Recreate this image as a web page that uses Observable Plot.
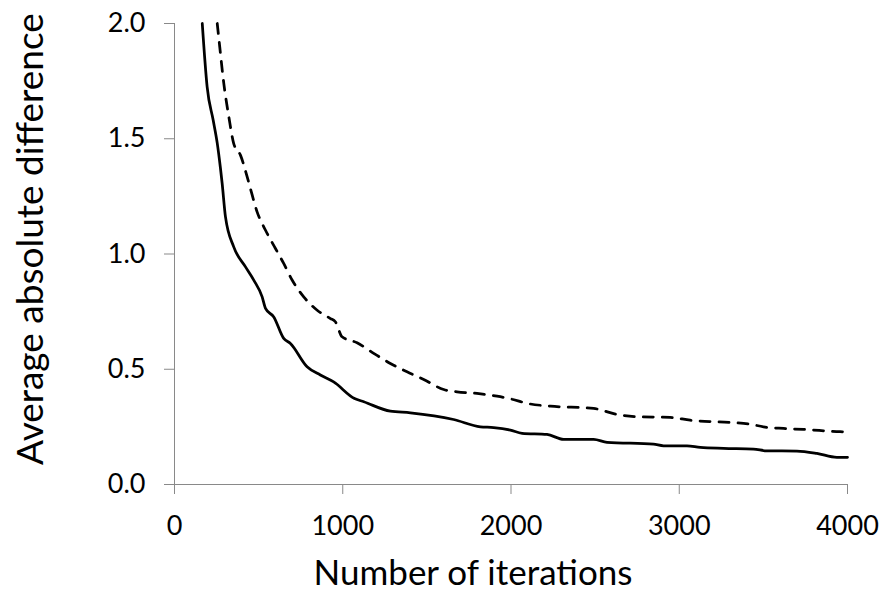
<!DOCTYPE html>
<html>
<head>
<meta charset="utf-8">
<script src="https://cdn.jsdelivr.net/npm/d3@7"></script>
<script src="https://cdn.jsdelivr.net/npm/@observablehq/plot@0.6"></script>
<style>
  html, body { margin: 0; padding: 0; background: #fff; }
</style>
</head>
<body>
<div id="chart"></div>
<script>
// Solid series
const iterSolid = [165, 194, 230, 254, 273, 283, 303, 352, 422, 471, 521, 541, 590, 649, 689, 788, 867, 946, 1070, 1125, 1283, 1402, 1659, 1818, 1897, 1996, 2066, 2214, 2313, 2491, 2571, 2847, 2907, 3046, 3125, 3263, 3441, 3521, 3699, 3818, 3937, 4000];
const valSolid  = [2.0, 1.725, 1.58, 1.481, 1.373, 1.308, 1.161, 1.031, 0.944, 0.887, 0.814, 0.764, 0.727, 0.634, 0.612, 0.511, 0.475, 0.445, 0.373, 0.359, 0.318, 0.311, 0.282, 0.25, 0.247, 0.236, 0.222, 0.217, 0.196, 0.196, 0.183, 0.175, 0.168, 0.168, 0.161, 0.157, 0.154, 0.146, 0.145, 0.135, 0.118, 0.118];

// Dashed series
const iterDashed = [254, 269, 293, 323, 352, 392, 432, 462, 491, 541, 600, 649, 699, 768, 848, 927, 956, 996, 1085, 1184, 1283, 1382, 1481, 1600, 1679, 1798, 1917, 2006, 2095, 2234, 2491, 2630, 2749, 2946, 3065, 3303, 3422, 3501, 3620, 3738, 3956, 4000];
const valDashed  = [2.0, 1.898, 1.74, 1.595, 1.479, 1.429, 1.335, 1.255, 1.183, 1.103, 1.024, 0.959, 0.887, 0.814, 0.756, 0.72, 0.706, 0.641, 0.615, 0.569, 0.525, 0.489, 0.456, 0.412, 0.402, 0.395, 0.383, 0.37, 0.352, 0.34, 0.33, 0.304, 0.294, 0.291, 0.279, 0.269, 0.262, 0.25, 0.243, 0.239, 0.229, 0.228];

const xTicks = [0, 1000, 2000, 3000, 4000];
const yTicks = [0, 0.5, 1.0, 1.5, 2.0];
const xTitle = "Number of iterations";
const yTitle = "Average absolute difference";

const solid = iterSolid.map((x, i) => ({x, y: valSolid[i]}));
const dashed = iterDashed.map((x, i) => ({x, y: valDashed[i]}));

const axisGray = "#898989";

const chart = Plot.plot({
  width: 880,
  height: 592,
  marginLeft: 174,
  marginRight: 33,
  marginTop: 23,
  marginBottom: 108,
  style: {fontFamily: "Lato", fontSize: "27px", color: "#000", background: "#fff"},
  x: {domain: [0, 4000]},
  y: {domain: [0, 2]},
  marks: [
    Plot.axisX({ticks: xTicks, tickSize: 10, tickPadding: 21, stroke: axisGray, fill: "#000", tickFormat: d3.format("d"), label: null}),
    Plot.axisY({ticks: yTicks, tickSize: 10, tickPadding: 19, stroke: axisGray, fill: "#000", tickFormat: d3.format(".1f"), label: null}),
    Plot.ruleY([0], {stroke: axisGray, strokeWidth: 1}),
    Plot.ruleX([0], {stroke: axisGray, strokeWidth: 1}),
    Plot.line(solid, {x: "x", y: "y", stroke: "#000", strokeWidth: 2.75, curve: "monotone-x"}),
    Plot.line(dashed, {x: "x", y: "y", stroke: "#000", strokeWidth: 2.75, strokeDasharray: "10,9", curve: "monotone-x"}),
    Plot.text([xTitle], {frameAnchor: "bottom", textAnchor: "middle", lineAnchor: "bottom", dx: -38, dy: 100, fontSize: 35, fill: "#000"}),
    Plot.text([yTitle], {frameAnchor: "left", textAnchor: "middle", lineAnchor: "bottom", rotate: -90, dx: -132, dy: -15, fontSize: 37, fill: "#000"})
  ]
});
document.getElementById("chart").appendChild(chart);
</script>
</body>
</html>
